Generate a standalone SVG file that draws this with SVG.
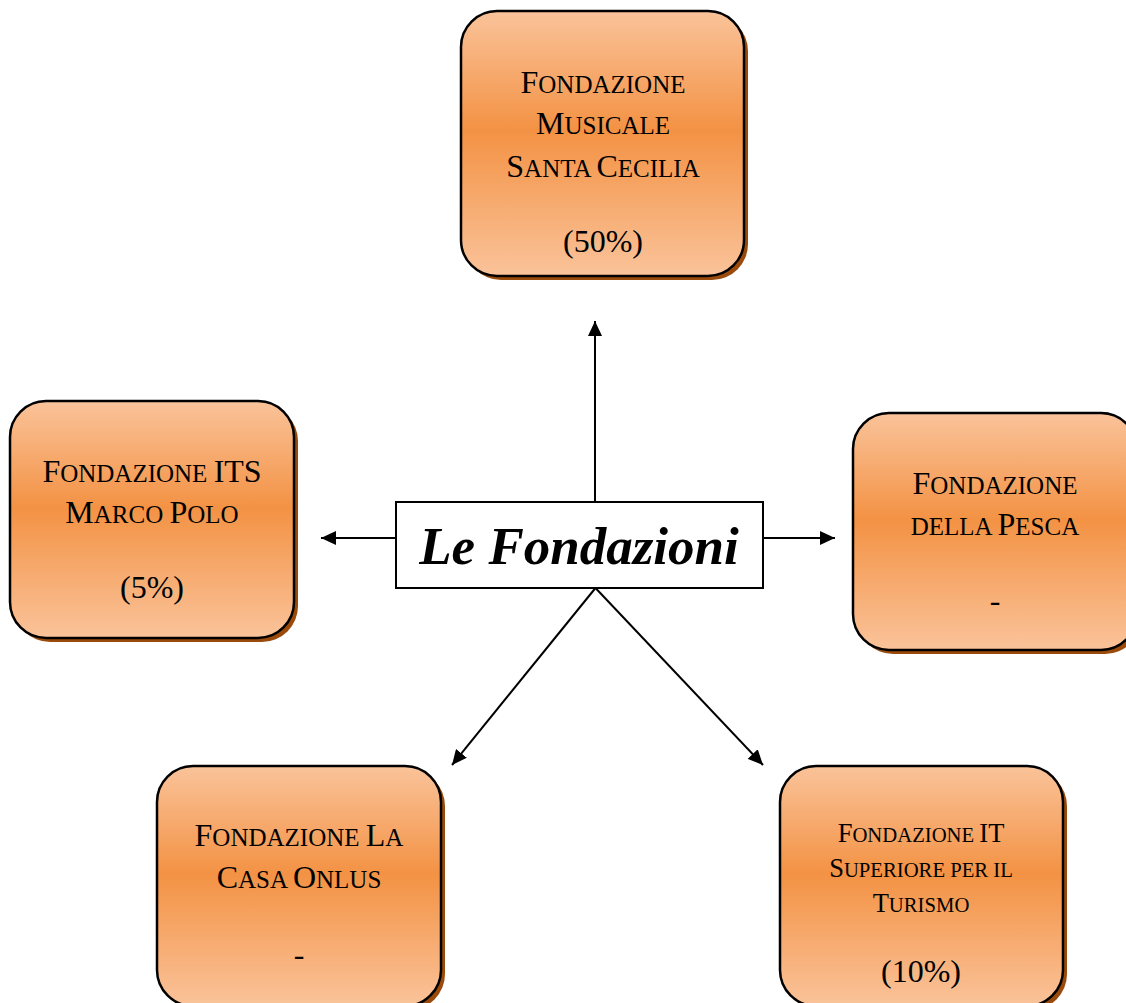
<svg xmlns="http://www.w3.org/2000/svg" width="1126" height="1003" viewBox="0 0 1126 1003">
  <defs>
    <linearGradient id="og" x1="0" y1="0" x2="0" y2="1">
      <stop offset="0" stop-color="#fac39a"/>
      <stop offset="0.45" stop-color="#f39244"/>
      <stop offset="1" stop-color="#fac39a"/>
    </linearGradient>
    <marker id="ah" viewBox="0 0 15 14" refX="15" refY="7" markerWidth="15" markerHeight="14" markerUnits="userSpaceOnUse" orient="auto">
      <path d="M0,0 L15,7 L0,14 Z" fill="#000"/>
    </marker>
    <style>
      .shadow { fill: #9a4a0b; }
      .box { fill: url(#og); stroke: #000; stroke-width: 2.5; }
      .t { font-family: "Liberation Serif", "Times New Roman", serif; font-size: 32px; fill: #000; text-anchor: middle; }
      .s { font-size: 25px; }
      .t2 { font-size: 26.5px; }
      .s2 { font-size: 20.7px; }
      .conn { stroke: #000; stroke-width: 2; fill: none; marker-end: url(#ah); }
      .center { fill: #fff; stroke: #000; stroke-width: 2; }
      .title { font-family: "Liberation Serif", "Times New Roman", serif; font-size: 53px; font-weight: bold; font-style: italic; fill: #000; text-anchor: middle; }
    </style>
  </defs>
  <rect width="1126" height="1003" fill="#fff"/>

  <g id="connectors">
    <line class="conn" x1="595" y1="502" x2="595" y2="321"/>
    <line class="conn" x1="396" y1="538" x2="321" y2="538"/>
    <line class="conn" x1="763" y1="538" x2="835" y2="538"/>
    <line class="conn" x1="595.5" y1="588" x2="452" y2="765"/>
    <line class="conn" x1="595.5" y1="588" x2="763" y2="765"/>
  </g>

  <g id="center">
    <rect class="center" x="396" y="502" width="367" height="86"/>
    <text class="title" x="579" y="564">Le Fondazioni</text>
  </g>

  <g id="santa-cecilia">
    <rect class="shadow" x="465" y="15" width="283" height="265" rx="36"/>
    <rect class="box" x="461" y="11" width="283" height="265" rx="36"/>
    <text class="t" x="603" y="93">F<tspan class="s">ONDAZIONE</tspan></text>
    <text class="t" x="603" y="134">M<tspan class="s">USICALE</tspan></text>
    <text class="t" x="603" y="177">S<tspan class="s">ANTA </tspan>C<tspan class="s">ECILIA</tspan></text>
    <text class="t" x="603" y="252">(50%)</text>
  </g>

  <g id="marco-polo">
    <rect class="shadow" x="14" y="405" width="284" height="237" rx="36"/>
    <rect class="box" x="10" y="401" width="284" height="237" rx="36"/>
    <text class="t" x="152" y="482">F<tspan class="s">ONDAZIONE </tspan>ITS</text>
    <text class="t" x="152" y="523">M<tspan class="s">ARCO </tspan>P<tspan class="s">OLO</tspan></text>
    <text class="t" x="152" y="598">(5%)</text>
  </g>

  <g id="pesca">
    <rect class="shadow" x="857" y="417" width="284" height="237" rx="36"/>
    <rect class="box" x="853" y="413" width="284" height="237" rx="36"/>
    <text class="t" x="995" y="494">F<tspan class="s">ONDAZIONE</tspan></text>
    <text class="t" x="995" y="535"><tspan class="s">DELLA </tspan>P<tspan class="s">ESCA</tspan></text>
    <text class="t" x="995" y="611">-</text>
  </g>

  <g id="la-casa">
    <rect class="shadow" x="161" y="770" width="284" height="240" rx="36"/>
    <rect class="box" x="157" y="766" width="284" height="240" rx="36"/>
    <text class="t" x="299" y="846">F<tspan class="s">ONDAZIONE </tspan>L<tspan class="s">A</tspan></text>
    <text class="t" x="299" y="888">C<tspan class="s">ASA </tspan>O<tspan class="s">NLUS</tspan></text>
    <text class="t" x="299" y="965">-</text>
  </g>

  <g id="turismo">
    <rect class="shadow" x="784" y="770" width="283" height="240" rx="36"/>
    <rect class="box" x="780" y="766" width="283" height="240" rx="36"/>
    <text class="t t2" x="921" y="842">F<tspan class="s2">ONDAZIONE </tspan>IT</text>
    <text class="t t2" x="921" y="877">S<tspan class="s2">UPERIORE PER IL</tspan></text>
    <text class="t t2" x="921" y="912">T<tspan class="s2">URISMO</tspan></text>
    <text class="t" x="921" y="982">(10%)</text>
  </g>
</svg>
